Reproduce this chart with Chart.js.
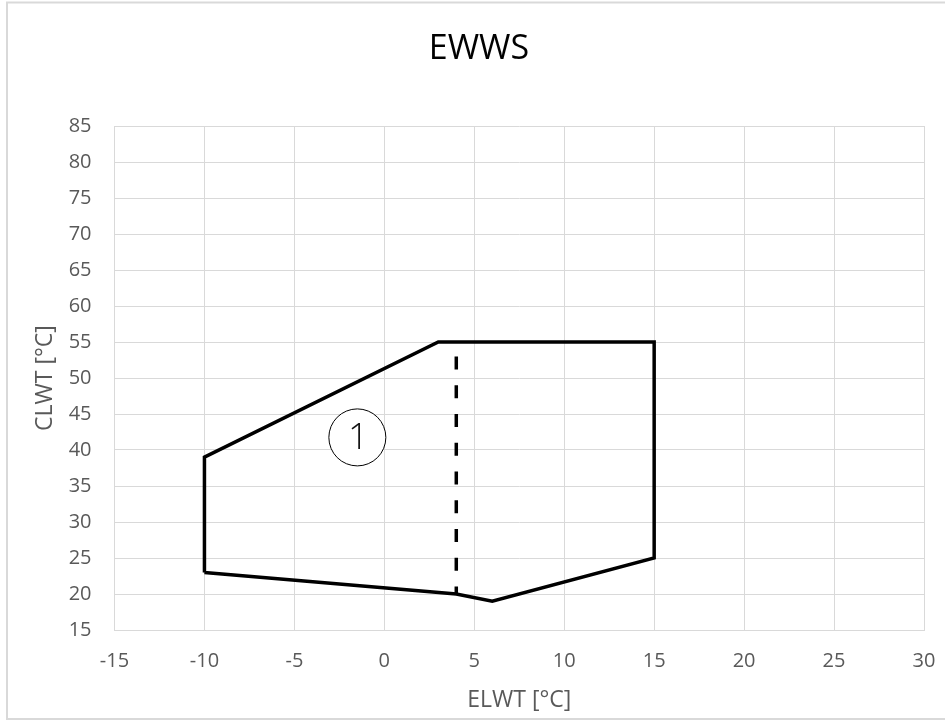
<!DOCTYPE html>
<html>
<head>
<meta charset="utf-8">
<script src="https://cdn.jsdelivr.net/npm/chart.js@4"></script>
<style>
  html, body { margin: 0; padding: 0; background: #fff; }
  #wrap { width: 945px; height: 720px; }
  canvas { display: block; }
</style>
</head>
<body>
<div id="wrap"><canvas id="c" width="945" height="720"></canvas></div>
<script>
// ---- data ----
const chartTitle = 'EWWS';
const xAxisTitle = 'ELWT [°C]';
const yAxisTitle = 'CLWT [°C]';
const xTicks = [-15, -10, -5, 0, 5, 10, 15, 20, 25, 30];
const yTicks = [15, 20, 25, 30, 35, 40, 45, 50, 55, 60, 65, 70, 75, 80, 85];
// operating envelope (closed polygon)
const envX = [-10, -10, 3, 15, 15, 6, 4, -10];
const envY = [23, 39, 55, 55, 25, 19, 20, 23];
// dashed separator
const dashX = [4, 4];
const dashY = [53, 20];
// zone marker
const labelX = [-1.5];
const labelY = [41.75];
const labelText = ['1'];

const FONT = '"Open Sans", "DejaVu Sans", sans-serif';
const toPts = (xs, ys) => xs.map((x, i) => ({ x: x, y: ys[i] }));

const outerBorder = {
  id: 'outerBorder',
  beforeDraw(chart) {
    const ctx = chart.ctx;
    ctx.save();
    ctx.fillStyle = '#ffffff';
    ctx.fillRect(0, 0, chart.width, chart.height);
    ctx.strokeStyle = '#d9d9d9';
    ctx.lineWidth = 2;
    ctx.strokeRect(7, 2.5, 950, 716.5);
    ctx.restore();
  }
};

const zoneLabel = {
  id: 'zoneLabel',
  afterDatasetsDraw(chart) {
    const ctx = chart.ctx;
    const xs = chart.scales.x, ys = chart.scales.y;
    ctx.save();
    ctx.fillStyle = '#111';
    ctx.font = '300 36px ' + FONT;
    ctx.textAlign = 'center';
    ctx.textBaseline = 'middle';
    labelText.forEach((t, i) => {
      ctx.fillText(t, xs.getPixelForValue(labelX[i]) + 1, ys.getPixelForValue(labelY[i]) + 1);
    });
    ctx.restore();
  }
};

new Chart(document.getElementById('c'), {
  type: 'scatter',
  data: {
    datasets: [
      {
        data: toPts(envX, envY),
        showLine: true,
        borderColor: '#000',
        borderWidth: 3.5,
        borderJoinStyle: 'miter',
        pointRadius: 0,
        fill: false,
        tension: 0
      },
      {
        data: toPts(dashX, dashY),
        showLine: true,
        borderColor: '#000',
        borderWidth: 3.5,
        borderDash: [13, 15.75],
        borderCapStyle: 'butt',
        pointRadius: 0,
        fill: false
      },
      {
        data: toPts(labelX, labelY),
        showLine: false,
        pointStyle: 'circle',
        pointRadius: 28.5,
        pointBackgroundColor: '#fff',
        pointBorderColor: '#000',
        pointBorderWidth: 1
      }
    ]
  },
  options: {
    responsive: false,
    animation: false,
    devicePixelRatio: 1,
    layout: { autoPadding: false, padding: { left: 34, right: 21, top: 0, bottom: 0 } },
    plugins: {
      legend: { display: false },
      tooltip: { enabled: false },
      title: {
        display: true,
        text: chartTitle,
        color: '#000',
        font: { family: FONT, size: 34, weight: 'normal', lineHeight: 1.2 },
        padding: { top: 29, bottom: 56.2 }
      }
    },
    scales: {
      x: {
        type: 'linear',
        min: xTicks[0],
        max: xTicks[xTicks.length - 1],
        afterBuildTicks: (s) => { s.ticks = xTicks.map(v => ({ value: v })); },
        afterFit: (s) => { s.height = 90; },
        grid: { color: '#d9d9d9', lineWidth: 1, drawTicks: false },
        border: { color: '#d9d9d9', width: 1 },
        ticks: { color: '#595959', padding: 0, autoSkip: false, maxRotation: 0,
                 font: { family: FONT, size: 20, lineHeight: 3.1 } },
        title: {
          display: true,
          text: xAxisTitle,
          color: '#595959',
          font: { family: FONT, size: 23, lineHeight: 1.2 },
          padding: { top: 0, bottom: 6.2 }
        }
      },
      y: {
        type: 'linear',
        min: yTicks[0],
        max: yTicks[yTicks.length - 1],
        afterBuildTicks: (s) => { s.ticks = yTicks.map(v => ({ value: v })); },
        afterFit: (s) => { s.width = 80.5; },
        grid: { color: '#d9d9d9', lineWidth: 1, drawTicks: false },
        border: { color: '#d9d9d9', width: 1 },
        ticks: { color: '#595959', padding: 23, font: { family: FONT, size: 20 } },
        title: {
          display: true,
          text: yAxisTitle,
          color: '#595959',
          font: { family: FONT, size: 23, lineHeight: 1 },
          padding: { top: 0, bottom: 0 }
        }
      }
    }
  },
  plugins: [outerBorder, zoneLabel]
});
</script>
</body>
</html>
